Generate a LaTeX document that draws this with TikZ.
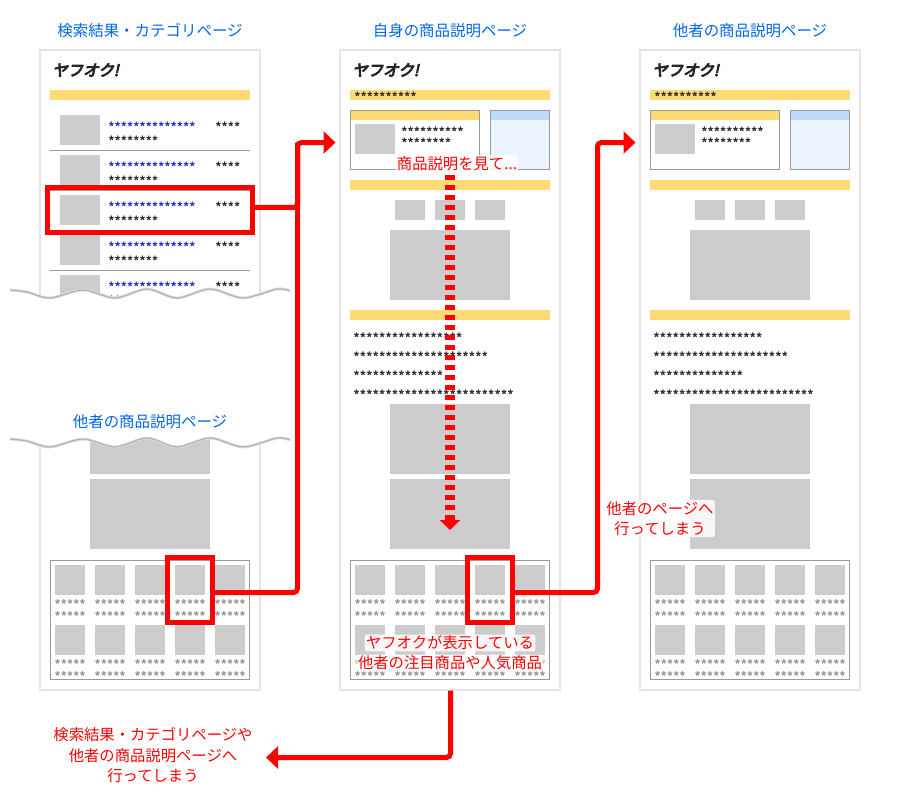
\documentclass[tikz,border=0pt]{standalone}
\usepackage{fontspec}
\setmainfont{Noto Sans CJK JP}
\newfontfamily\logofont[FakeSlant=0.22,FakeBold=6]{Noto Sans CJK JP}
\newfontfamily\starfont[FakeBold=1.2]{Noto Sans CJK JP}
\usetikzlibrary{arrows.meta, shadows}
\definecolor{cbar}{HTML}{FFDB76}
\definecolor{cthumb}{HTML}{CCCCCC}
\definecolor{cline}{HTML}{999999}
\definecolor{chead}{HTML}{0066EE}
\definecolor{cstar}{HTML}{333333}
\definecolor{clink}{HTML}{3333DD}
\definecolor{ctabtop}{HTML}{BFD9FC}
\definecolor{ctabbody}{HTML}{EAF3FF}
\tikzset{
  pg/.style={fill=white, draw=black!10, line width=.9pt, minimum width=165pt, minimum height=480pt,
             inner sep=0pt, drop shadow={shadow xshift=0pt, shadow yshift=-.9pt, opacity=.22}},
  thumb/.style={fill=cthumb},
  bar/.style={fill=cbar},
  hd/.style={font=\fontsize{11.6pt}{17pt}\selectfont, text=chead, inner sep=0pt},
  lbl/.style={font=\fontsize{11.5pt}{15.4pt}\selectfont, text=red, align=center, inner sep=1pt},
  halo/.style={lbl, fill=white, fill opacity=.85, text opacity=1, rounded corners=2pt},
  st/.style={font=\starfont\fontsize{10pt}{12pt}\selectfont, text=cstar, anchor=west, inner sep=0pt},
  stl/.style={st, font=\starfont\fontsize{10.3pt}{12pt}\selectfont},
  stc/.style={st, text=cline, anchor=center},
  logo/.style={font=\logofont\fontsize{11.6pt}{14pt}\selectfont, text=black!85, anchor=west, inner sep=0pt},
  hl/.style={draw=red, line width=3.75pt, inner sep=0pt},
  fl/.style={-{Triangle[length=9pt,width=16.5pt]}, draw=red, line width=3.75pt, rounded corners=3pt},
  dotfl/.style={-{Triangle[length=7.5pt,width=15pt]}, draw=red, line width=7.5pt, dash pattern=on 3.75pt off 3.75pt},
  tear/.style={draw=black!30, line width=.9pt},
  tearsoft/.style={draw=black!12, line width=2.2pt},
}
% grid of recommended items at the foot of a page
\newcommand{\recgrid}[2]{
  \begin{scope}[shift={(#2,0)}]
    \draw[cline, line width=.75pt] (10.5,560.5) rectangle (209.5,679.5);
    \foreach \c in {0,...,4} {
      \fill[thumb] (15+40*\c,565) rectangle ++(30,30);
      \fill[thumb] (15+40*\c,625) rectangle ++(30,30);
      \node[stc] (#1a\c) at (30,604.5) [xshift=30pt*\c] {*****};
      \node[stc] (#1b\c) at (30,616.5) [xshift=30pt*\c] {*****};
      \node[stc] (#1c\c) at (30,664.5) [xshift=30pt*\c] {*****};
      \node[stc] (#1d\c) at (30,676.5) [xshift=30pt*\c] {*****};
    }
  \end{scope}
}
% a product description page
\newcommand{\descpage}[2]{
  \node[pg] (#1) at (#2+110,370) {};
  \begin{scope}[shift={(#2,0)}]
    \node[logo] (#1logo) at (12,70) {ヤフオク!};
    \fill[bar] (10,90) rectangle (210,100);
    \node[st] (#1title) at (14,97) {**********};
    \fill[bar] (10,110) rectangle (140,120);
    \draw[cline, line width=.75pt] (10.5,110.5) rectangle (139.5,169.5);
    \fill[thumb] (15,124) rectangle ++(40,30);
    \node[st] (#1infoa) at (61,132) {**********};
    \node[st] (#1infob) at (61,143) {********};
    \fill[ctabbody] (150,110) rectangle (210,170);
    \fill[ctabtop] (150,110) rectangle (210,120);
    \draw[cline, line width=.75pt] (150.5,110.5) rectangle (209.5,169.5);
    \fill[bar] (10,180) rectangle (210,190);
    \foreach \x in {55,95,135} \fill[thumb] (\x,200) rectangle ++(30,20);
    \fill[thumb] (50,230) rectangle (170,300);
    \fill[bar] (10,310) rectangle (210,320);
    \node[stl] (#1texta) at (13,338) {*****************};
    \node[stl] (#1textb) at (13,357) {*********************};
    \node[stl] (#1textc) at (13,376) {**************};
    \node[stl] (#1textd) at (13,395) {*************************};
    \fill[thumb] (50,404) rectangle (170,474);
    \fill[thumb] (50,479) rectangle (170,549);
  \end{scope}
  \recgrid{#1}{#2}
}
\newcommand{\wavetop}{(10,290) (27,292) (50,298) (83,290) (115,298) (147,289) (177,298) (210,289) (243,298) (277,289) (290,291)}
\newcommand{\wavelow}{(290,440) (277,438) (243,447) (210,438) (177,447) (147,438) (115,447) (83,439) (50,447) (27,441) (10,439)}

\begin{document}
\begin{tikzpicture}[x=.75pt, y=-.75pt]
  \useasboundingbox (0,0) rectangle (900,800);
  \node[hd] (headlist) at (150,31) {検索結果・カテゴリページ};
  \node[hd] (headself) at (450,31) {自身の商品説明ページ};
  \node[hd] (headother) at (750,31) {他者の商品説明ページ};

  % search result page, cut in the middle
  \node[pg] (list) at (150,370) {};
  \node[logo] (listlogo) at (52,70) {ヤフオク!};
  \fill[bar] (50,90) rectangle (250,100);
  \foreach \y [count=\n] in {115,155,195,235,275} {
    \fill[thumb] (60,\y) rectangle ++(40,30);
    \node[st, text=clink] (listname\n) at (108,\y+12) {**************};
    \node[st] (listprice\n) at (215,\y+12) {****};
    \node[st] (listnote\n) at (108,\y+26) {********};
  }
  \foreach \y in {150,190,230,270} \draw[cline, line width=.75pt] (50,\y.5) -- (250,\y.5);
  \fill[thumb] (90,404) rectangle (210,474);
  \fill[thumb] (90,479) rectangle (210,549);
  \recgrid{list}{40}
  \fill[white] plot[smooth] coordinates {\wavetop} -- plot[smooth] coordinates {\wavelow} -- cycle;
  \draw[tearsoft] plot[smooth] coordinates {\wavetop};
  \draw[tearsoft] plot[smooth] coordinates {\wavelow};
  \draw[tear] plot[smooth] coordinates {\wavetop};
  \draw[tear] plot[smooth] coordinates {\wavelow};
  \node[hd] (headlower) at (150,422) {他者の商品説明ページ};

  \descpage{self}{340}
  \descpage{other}{640}

  \node[hl, minimum width=153.75pt, minimum height=33.75pt] (pickrow) at (150,210) {};
  \node[hl, minimum width=33.75pt, minimum height=48.75pt] (pickitem) at (190,590) {};
  \node[hl, minimum width=33.75pt, minimum height=48.75pt] (pickself) at (490,590) {};

  \coordinate (busa) at (297.5,142.5);
  \coordinate (inself) at (335.5,142.5);
  \coordinate (busb) at (597.5,142.5);
  \coordinate (inother) at (635.5,142.5);
  \coordinate (outturn) at (450.5,757.5);
  \coordinate (outend) at (266,757.5);
  \draw[fl] ([yshift=1.9pt]pickrow.east) -- ++(42.5,0) |- (inself);
  \draw[fl, -] ([yshift=-1.9pt]pickitem.east) -| (busa);
  \draw[fl] ([yshift=-1.9pt]pickself.east) -| (busb) -- (inother);
  \draw[fl] (self.south -| outturn) -- (outturn) -- (outend);

  \coordinate (scrolltop) at (450,175);
  \coordinate (scrollend) at (450,530);
  \draw[dotfl] (scrolltop) -- (scrollend);

  \node[halo] (lookdesc) at (457,163.5) {商品説明を見て...};
  \node[halo] (recnotea) at (450,643) {ヤフオクが表示している};
  \node[halo] (recnoteb) at (450,663) {他者の注目商品や人気商品};
  \node[halo] (gotoother) at (660,518.5) {他者のページへ\\行ってしまう};
  \node[lbl] (gotolist) at (153,755.5) {検索結果・カテゴリページや\\他者の商品説明ページへ\\行ってしまう};
\end{tikzpicture}
\end{document}
